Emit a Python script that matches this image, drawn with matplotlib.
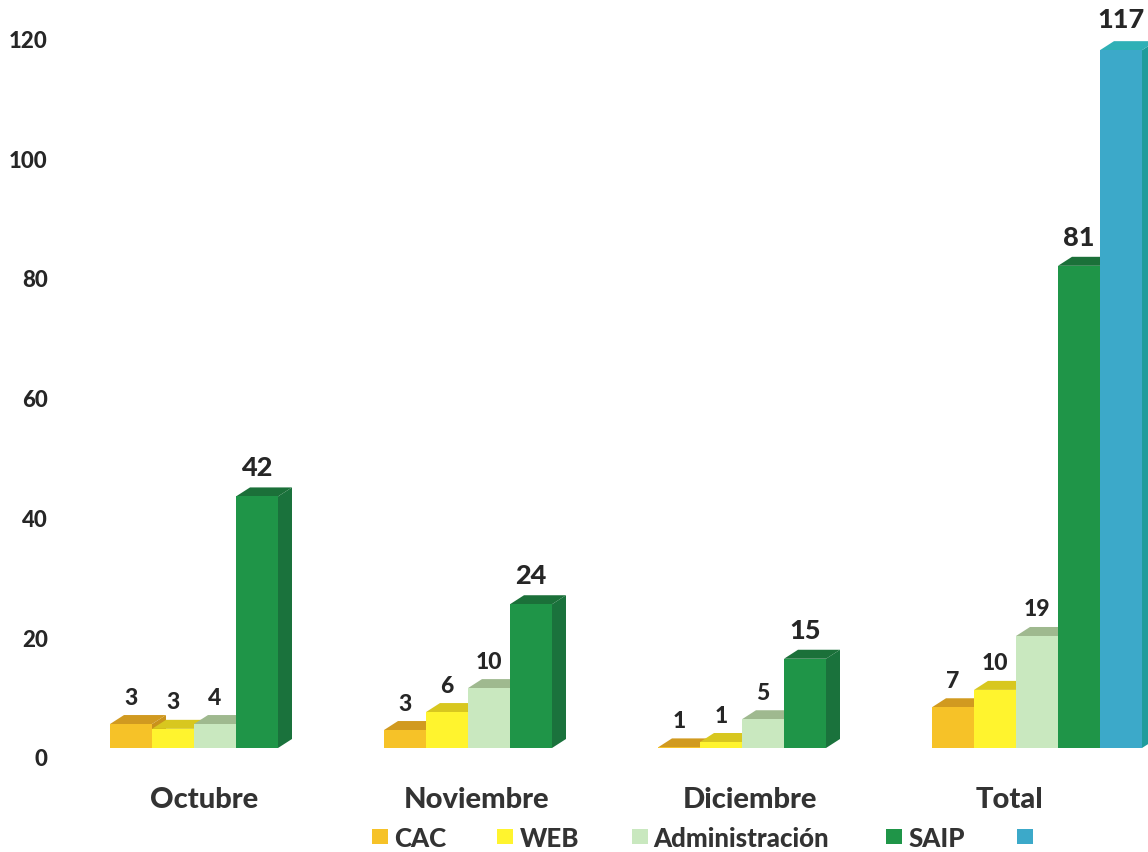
import matplotlib
matplotlib.use("Agg")
import matplotlib.pyplot as plt
from matplotlib.patches import Polygon, Rectangle

plt.rcParams['font.family'] = ['Lato', 'DejaVu Sans']

categories = ['Octubre', 'Noviembre', 'Diciembre', 'Total']
series_names = ['CAC', 'WEB', 'Administración', 'SAIP', '']
# drawn heights (None = no bar)
cac = [4.0, 3.0, 0.1, 6.8]
web = [3.2, 6.0, 1.0, 9.7]
adm = [4.0, 10.0, 4.8, 18.7]
saip = [42.0, 24.0, 14.9, 80.5]
tot = [None, None, None, 116.5]
# printed value labels
cac_lab = [3, 3, 1, 7]
web_lab = [3, 6, 1, 10]
adm_lab = [4, 10, 5, 19]
saip_lab = [42, 24, 15, 81]
tot_lab = [None, None, None, 117]
yticks = [0, 20, 40, 60, 80, 100, 120]

heights = [cac, web, adm, saip, tot]
labels = [cac_lab, web_lab, adm_lab, saip_lab, tot_lab]
front = ['#f6c228', '#fff42e', '#c9e8bf', '#1f9548', '#3ca9c9']
top = ['#d19a20', '#d8c71f', '#9fb98f', '#1b7039', '#2fb0b6']
side = ['#c9921c', '#cfc01e', '#a5c297', '#1a723c', '#1f9c9c']

W, H = 1148, 853
PX_Y = 5.99          # pixels per value unit
ZERO = 758           # pixel row of tick 0
FLOOR = 749          # pixel row of bar feet
GROUP = 274          # pixels per category
BAR = 42 / GROUP     # bar width in category units
AX_LEFT = 55
X0 = 110
WEIGHT = 'black'

fig = plt.figure(figsize=(W / 100, H / 100), dpi=100, facecolor='white')
ax = fig.add_axes([AX_LEFT / W, 0, 1 - AX_LEFT / W, 1])
ax.set_xlim((AX_LEFT - X0) / GROUP, (W - X0) / GROUP)
ax.set_ylim((ZERO - H) / PX_Y, ZERO / PX_Y)
for s in ax.spines.values():
    s.set_visible(False)
ax.patch.set_visible(False)
ax.set_xticks([])
ax.set_yticks(yticks)
ax.set_yticklabels([str(t) for t in yticks], fontsize=16, fontweight=WEIGHT, color='#262626')
ax.tick_params(axis='y', length=0, pad=5.2)

base = (ZERO - FLOOR) / PX_Y
dx = 14 / GROUP
dy = 9 / PX_Y

for j, (vals, labs) in enumerate(zip(heights, labels)):
    for i, (v, lab) in enumerate(zip(vals, labs)):
        if v is None:
            continue
        x0 = i + j * BAR
        x1 = x0 + BAR
        yt = base + v
        ax.add_patch(Polygon([(x1, base), (x1 + dx, base + dy), (x1 + dx, yt + dy), (x1, yt)],
                             closed=True, fc=side[j], ec='none', zorder=2 + j))
        ax.add_patch(Polygon([(x0, yt), (x0 + dx, yt + dy), (x1 + dx, yt + dy), (x1, yt)],
                             closed=True, fc=top[j], ec='none', zorder=2 + j))
        ax.add_patch(Rectangle((x0, base), BAR, v, fc=front[j], ec='none', zorder=2 + j))
        big = j >= 3
        ax.annotate(str(lab), (x0 + BAR / 2, yt),
                    xytext=(0, (31 if j == 4 else 29 if big else 27) * 0.72),
                    textcoords='offset points', ha='center', va='center',
                    fontsize=19.5 if big else 16.5, fontweight=WEIGHT, color='#262626', zorder=20)

# category labels
cat_px = [204, 477, 750, 1010]
for name, px in zip(categories, cat_px):
    fig.text(px / W, 1 - 800 / H, name, ha='center', va='center', fontsize=21,
             fontweight=WEIGHT, color='#333333')

# legend
leg_sq = [372, 497, 632, 886, 1017]
leg_tx = [394, 520, 653, 908, None]
for name, sq, tx, col in zip(series_names, leg_sq, leg_tx, front):
    fig.patches.append(Rectangle((sq / W, 1 - 845 / H), 16 / W, 15 / H, transform=fig.transFigure,
                                 fc=col, ec='none'))
    if tx is not None:
        fig.text(tx / W, 1 - 839 / H, name, ha='left', va='center', fontsize=18.6,
                 fontweight=WEIGHT, color='#333333')

fig.savefig('out.png', dpi=100)
